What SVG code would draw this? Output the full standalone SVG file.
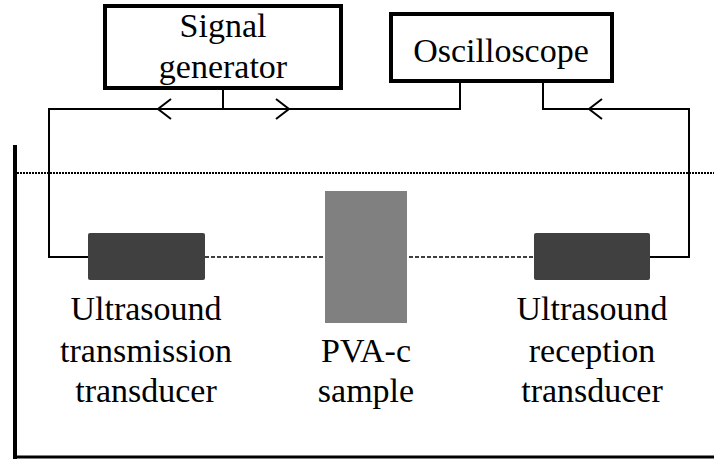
<svg xmlns="http://www.w3.org/2000/svg" width="714" height="459" viewBox="0 0 714 459">
<rect width="714" height="459" fill="#fff"/>
<g id="tank">
<line x1="15" y1="145" x2="15" y2="459" stroke="#000" stroke-width="4"/>
<line x1="13" y1="457" x2="714" y2="457" stroke="#000" stroke-width="3"/>
<line x1="17" y1="173" x2="714" y2="173" stroke="#000" stroke-width="2" stroke-dasharray="2,1"/>
</g>
<g id="connectors" fill="none" stroke="#000" stroke-width="2">
<line x1="205" y1="257" x2="534" y2="257" stroke-width="1.5" stroke-dasharray="4,2"/>
<polyline points="88,257 49,257 49,109 460,109 460,83"/>
<line x1="223" y1="90" x2="223" y2="109"/>
<polyline points="543,83 543,109 689,109 689,257 650,257"/>
<polyline points="171,99 158,109 171,119"/>
<polyline points="276,99 289,109 276,119"/>
<polyline points="602,99 589,109 602,119"/>
</g>
<g id="signal-generator">
<rect x="105" y="6" width="236" height="82" fill="#fff" stroke="#000" stroke-width="4"/>
<text x="223" y="37" font-family="Liberation Serif" font-size="34" text-anchor="middle" style="font-family:'Liberation Serif',serif !important">Signal</text>
<text x="223" y="78" font-family="Liberation Serif" font-size="34" text-anchor="middle" style="font-family:'Liberation Serif',serif !important">generator</text>
</g>
<g id="oscilloscope">
<rect x="391" y="14" width="221" height="67" fill="#fff" stroke="#000" stroke-width="4"/>
<text x="501" y="62" font-family="Liberation Serif" font-size="34" text-anchor="middle" style="font-family:'Liberation Serif',serif !important">Oscilloscope</text>
</g>
<g id="transmission-transducer">
<rect x="88" y="233" width="117" height="47" rx="2" fill="#404040"/>
<text x="146" y="320" font-family="Liberation Serif" font-size="34" text-anchor="middle" style="font-family:'Liberation Serif',serif !important">Ultrasound</text>
<text x="146" y="362" font-family="Liberation Serif" font-size="34" text-anchor="middle" style="font-family:'Liberation Serif',serif !important">transmission</text>
<text x="146" y="402" font-family="Liberation Serif" font-size="34" text-anchor="middle" style="font-family:'Liberation Serif',serif !important">transducer</text>
</g>
<g id="sample">
<rect x="325" y="191" width="82" height="132" fill="#808080"/>
<text x="366" y="362" font-family="Liberation Serif" font-size="34" text-anchor="middle" style="font-family:'Liberation Serif',serif !important">PVA-c</text>
<text x="366" y="402" font-family="Liberation Serif" font-size="34" text-anchor="middle" style="font-family:'Liberation Serif',serif !important">sample</text>
</g>
<g id="reception-transducer">
<rect x="534" y="233" width="116" height="47" rx="2" fill="#404040"/>
<text x="592" y="320" font-family="Liberation Serif" font-size="34" text-anchor="middle" style="font-family:'Liberation Serif',serif !important">Ultrasound</text>
<text x="592" y="362" font-family="Liberation Serif" font-size="34" text-anchor="middle" style="font-family:'Liberation Serif',serif !important">reception</text>
<text x="592" y="402" font-family="Liberation Serif" font-size="34" text-anchor="middle" style="font-family:'Liberation Serif',serif !important">transducer</text>
</g>
</svg>
